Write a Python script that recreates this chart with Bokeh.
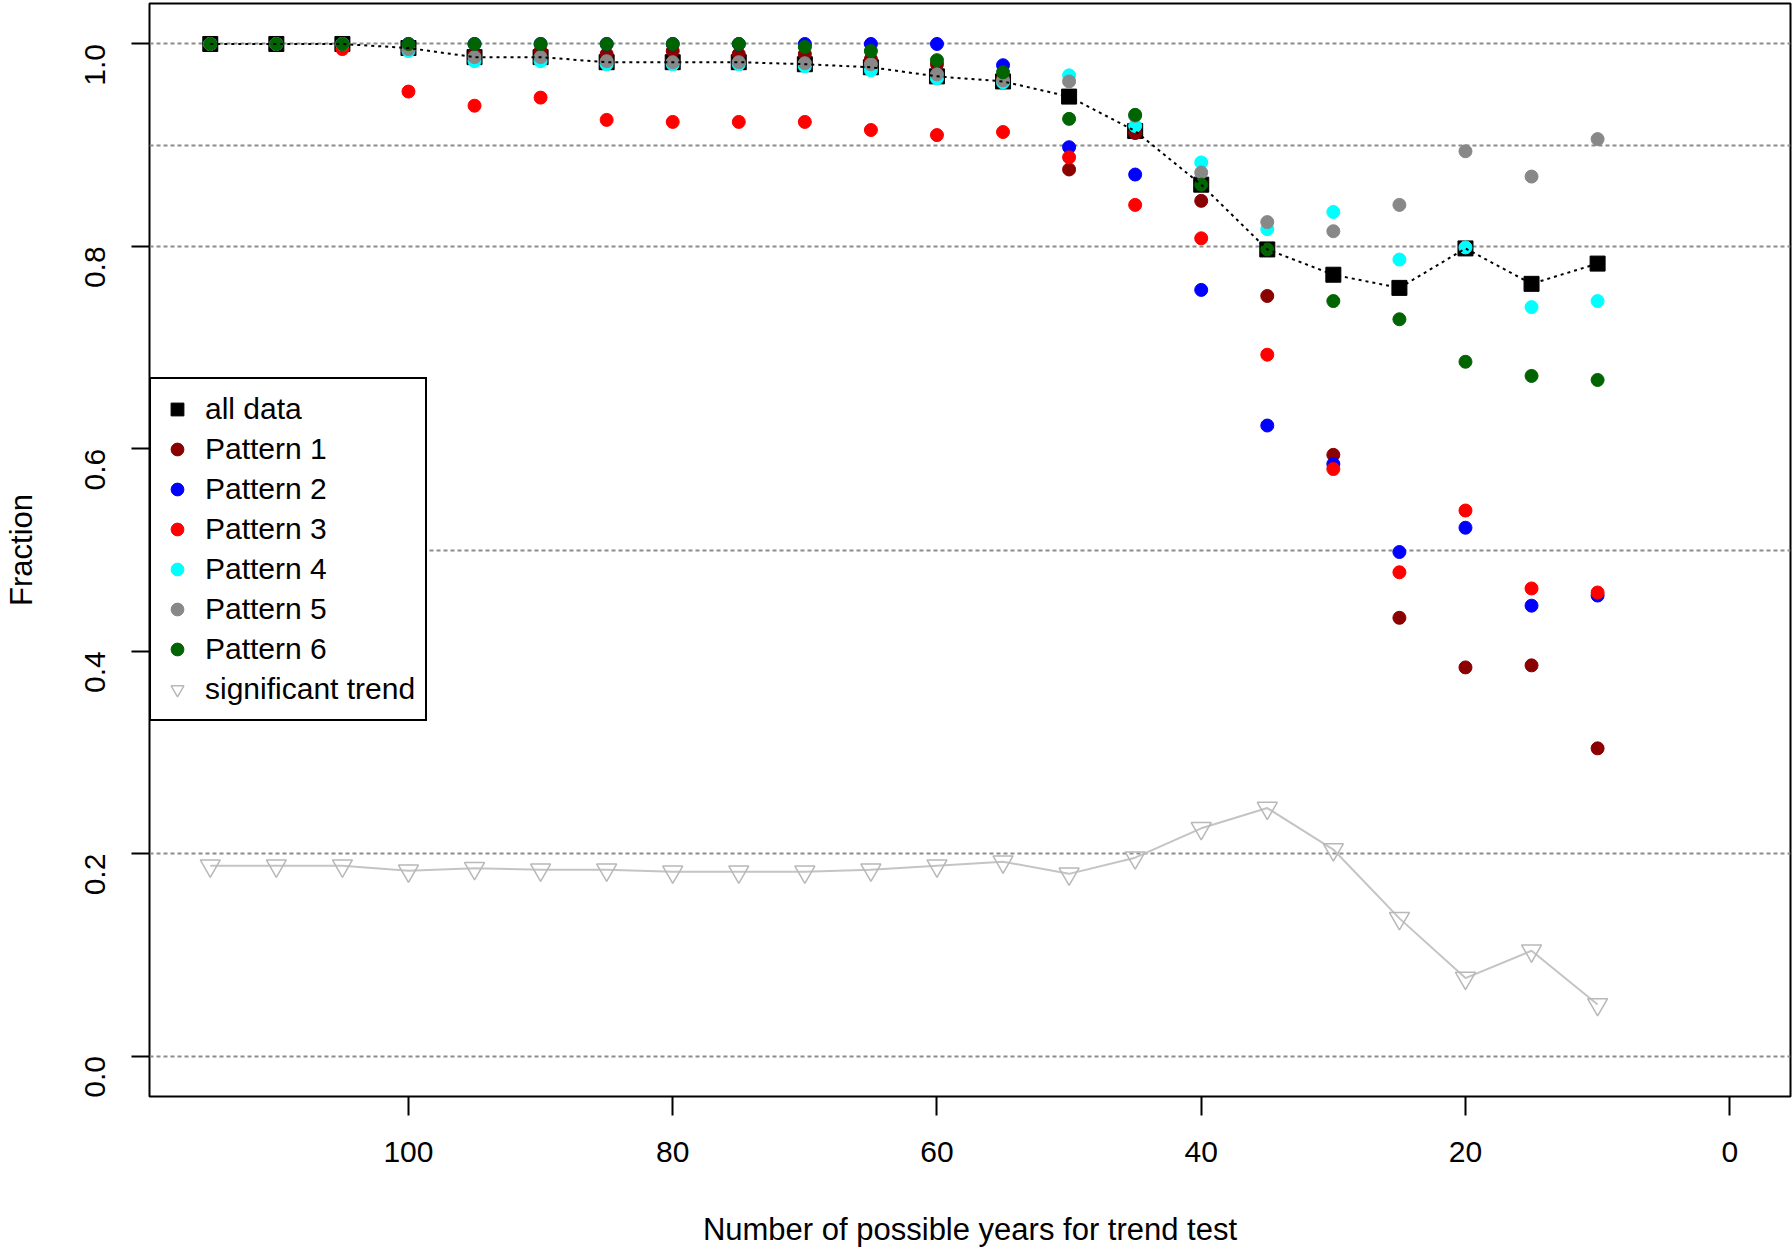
from bokeh.plotting import figure
from bokeh.models import Range1d, FixedTicker, Legend, LegendItem
from bokeh.embed import file_html
from bokeh.resources import INLINE
import math

# years available for the trend test (x axis, reversed)
years = [115, 110, 105, 100, 95, 90, 85, 80, 75, 70, 65, 60, 55, 50, 45, 40, 35, 30, 25, 20, 15, 10]

# fraction per group
all_data = [1.0, 1.0, 1.0, 0.996, 0.987, 0.987, 0.982, 0.982, 0.982, 0.980, 0.977, 0.968,
            0.963, 0.948, 0.914, 0.861, 0.797, 0.772, 0.759, 0.798, 0.763, 0.783]
pattern1 = [1.0, 1.0, 1.0, 0.997, 0.990, 0.993, 0.990, 0.993, 0.990, 0.990, 0.985, 0.980,
            0.966, 0.876, 0.912, 0.845, 0.751, 0.594, 0.433, 0.384, 0.386, 0.304]
pattern2 = [1.0, 1.0, 1.0, 1.0, 1.0, 1.0, 1.0, 1.0, 1.0, 1.0, 1.0, 1.0,
            0.979, 0.898, 0.871, 0.757, 0.623, 0.585, 0.498, 0.522, 0.445, 0.455]
pattern3 = [1.0, 1.0, 0.995, 0.953, 0.939, 0.947, 0.925, 0.923, 0.923, 0.923, 0.915, 0.910,
            0.913, 0.888, 0.841, 0.808, 0.693, 0.580, 0.478, 0.539, 0.462, 0.458]
pattern4 = [1.0, 1.0, 1.0, 0.993, 0.983, 0.983, 0.980, 0.980, 0.980, 0.978, 0.974, 0.966,
            0.962, 0.969, 0.919, 0.883, 0.817, 0.834, 0.787, 0.799, 0.740, 0.746]
pattern5 = [1.0, 1.0, 1.0, 0.995, 0.987, 0.987, 0.983, 0.982, 0.982, 0.981, 0.980, 0.970,
            0.964, 0.963, 0.929, 0.873, 0.824, 0.815, 0.841, 0.894, 0.869, 0.906]
pattern6 = [1.0, 1.0, 1.0, 1.0, 1.0, 1.0, 1.0, 1.0, 1.0, 0.997, 0.993, 0.984,
            0.972, 0.926, 0.930, 0.861, 0.797, 0.746, 0.728, 0.686, 0.672, 0.668]
sig_trend = [0.188, 0.188, 0.188, 0.183, 0.1855, 0.184, 0.184, 0.182, 0.182, 0.182, 0.184, 0.188,
             0.192, 0.180, 0.196, 0.225, 0.245, 0.204, 0.136, 0.077, 0.104, 0.051]

pattern_names = ["Pattern 1", "Pattern 2", "Pattern 3", "Pattern 4", "Pattern 5", "Pattern 6"]
pattern_colors = ["#8B0000", "#0000FF", "#FF0000", "#00FFFF", "#888888", "#006400"]

# reference lines across the plot
ref_levels = [0.0, 0.2, 0.5, 0.8, 0.9, 1.0]
x_ticks = [0, 20, 40, 60, 80, 100]
y_ticks = [0.0, 0.2, 0.4, 0.6, 0.8, 1.0]

FONT = "Liberation Sans"

p = figure(width=1792, height=1250, output_backend="svg", toolbar_location=None, tools="",
           x_range=Range1d(119.6, -4.6), y_range=Range1d(-0.04, 1.04),
           min_border_left=147, min_border_right=2, min_border_top=3, min_border_bottom=154)

p.xgrid.visible = False
p.ygrid.visible = False
p.outline_line_color = "black"
p.outline_line_width = 2
p.background_fill_color = "white"
p.border_fill_color = "white"

# dotted horizontal reference lines
p.hspan(y=ref_levels, line_color="#8c8c8c", line_width=2, line_dash="4 3")

# all data squares first, patterns on top
sq = p.scatter(years, all_data, marker="square", size=15, fill_color="black", line_color="black")

pattern_renderers = []
for vals, col in zip([pattern1, pattern2, pattern3, pattern4, pattern5, pattern6], pattern_colors):
    r = p.scatter(years, vals, marker="circle", size=13, fill_color=col, line_color=col)
    pattern_renderers.append(r)

p.line(years, all_data, line_color="black", line_width=2, line_dash="3 4")

# significant trend
p.line(years, sig_trend, line_color="#c4c4c4", line_width=2)
tri = p.scatter(years, sig_trend, marker="inverted_triangle", size=20, fill_color="white",
                fill_alpha=0.0, line_color="#b8b8b8", line_width=1.5)

# axes
for ax in (p.xaxis[0], p.yaxis[0]):
    ax.axis_line_color = None
    ax.major_tick_line_color = "black"
    ax.major_tick_line_width = 2
    ax.major_tick_in = 0
    ax.minor_tick_line_color = None
    ax.major_label_text_font = FONT
    ax.major_label_text_font_size = "30px"
    ax.major_label_text_color = "black"
    ax.axis_label_text_font = FONT
    ax.axis_label_text_font_size = "31px"
    ax.axis_label_text_font_style = "normal"
    ax.axis_label_text_color = "black"

p.xaxis.ticker = FixedTicker(ticks=x_ticks)
p.xaxis.major_tick_out = 19
p.xaxis.major_label_standoff = 26
p.xaxis.axis_label = "Number of possible years for trend test"
p.xaxis.axis_label_standoff = 47

p.yaxis.ticker = FixedTicker(ticks=y_ticks)
p.yaxis.major_tick_out = 18
p.yaxis.major_label_standoff = 36
p.yaxis.major_label_orientation = math.pi / 2
p.yaxis.major_label_overrides = {0: "0.0", 1: "1.0"}
p.yaxis.axis_label = "Fraction"
p.yaxis.axis_label_standoff = 34

items = [LegendItem(label="all data", renderers=[sq])]
for name, r in zip(pattern_names, pattern_renderers):
    items.append(LegendItem(label=name, renderers=[r]))
items.append(LegendItem(label="significant trend", renderers=[tri]))

legend = Legend(items=items, location=(0, 375), margin=0, padding=10, spacing=0,
                glyph_width=32, glyph_height=40, label_height=40, label_standoff=12,
                label_text_font=FONT, label_text_font_size="30px", label_text_color="black",
                border_line_color="black", border_line_width=2, border_line_alpha=1.0,
                background_fill_color="white", background_fill_alpha=1.0)
p.add_layout(legend)

open("out.html", "w").write(file_html(p, INLINE))
